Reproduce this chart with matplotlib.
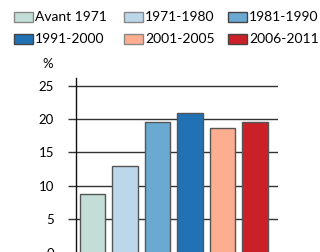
import matplotlib.pyplot as plt
from matplotlib.patches import Rectangle

# Data
periods = ['Avant 1971', '1971-1980', '1981-1990', '1991-2000', '2001-2005', '2006-2011']
values = [8.8, 12.9, 19.5, 20.9, 18.7, 19.6]
colors = ['#c2ded6', '#bcd6ea', '#6aaad2', '#2171b5', '#fcae91', '#cb2027']
yticks = [0, 5, 10, 15, 20, 25]

font = 'Lato'
plt.rcParams['font.family'] = font

fig = plt.figure(figsize=(3.2, 2.52), dpi=100)
ax = fig.add_axes([0.2375, -0.0024, 0.63125, 0.6917])

x = list(range(len(periods)))
ax.bar(x, values, width=0.77, color=colors, edgecolor='#555555', linewidth=1, zorder=3)

ax.set_xlim(-0.508, 5.708)
ax.set_ylim(0, 26.1)
ax.set_yticks(yticks)
ax.set_xticks([])
ax.grid(axis='y', color='#333333', linewidth=1)
ax.set_axisbelow(True)
for s in ['top', 'right', 'bottom']:
    ax.spines[s].set_visible(False)
ax.spines['left'].set_color('#111111')
ax.spines['left'].set_linewidth(1)
ax.tick_params(axis='y', length=5.8, width=1, color='#333333', labelsize=9.5, pad=10)
ax.text(-0.14, 1.08, '%', transform=ax.transAxes, fontsize=9.5, ha='center', va='center')

# Legend drawn by hand on a fixed grid
col_x = [14, 124, 228]
row_y = [17, 39]
W, H = 320, 252
for i, (lab, c) in enumerate(zip(periods, colors)):
    cx = col_x[i % 3]
    cy = row_y[i // 3]
    edge = '#888888' if i in (0, 1, 4) else '#444444'
    fig.patches.append(Rectangle((cx / W, 1 - (cy + 5) / H), 19 / W, 10 / H,
                                 transform=fig.transFigure, facecolor=c,
                                 edgecolor=edge, linewidth=1))
    fig.text((cx + 21) / W, 1 - cy / H, lab, fontsize=10, ha='left', va='center')

fig.savefig('out.png', dpi=100)
